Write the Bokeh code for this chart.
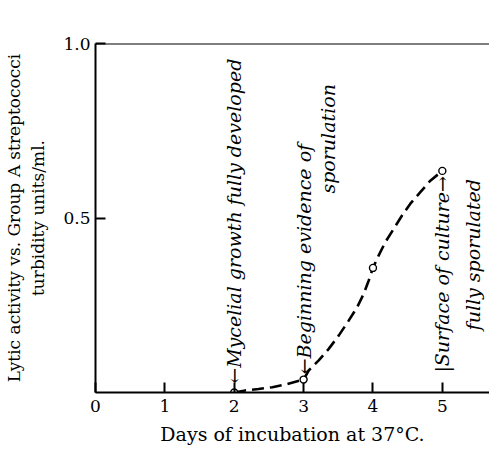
import math
from bokeh.plotting import figure
from bokeh.models import FixedTicker, Span, PrintfTickFormatter
from bokeh.core.properties import value
from bokeh.embed import file_html
from bokeh.resources import INLINE

# measured points
days = [2, 3, 4, 5]
activity = [0.0, 0.037, 0.357, 0.635]

# dashed curve
curve_days = [2.0, 2.16, 2.35, 2.55, 2.74, 3.0, 3.074, 3.218, 3.362, 3.506, 3.65, 3.771, 3.867,
              3.939, 4.0, 4.083, 4.179, 4.299, 4.419, 4.539, 4.683, 4.827, 5.0]
curve_vals = [0.0, 0.006, 0.010, 0.015, 0.023, 0.037, 0.063, 0.092, 0.125, 0.163, 0.206, 0.244, 0.283,
              0.321, 0.357, 0.393, 0.431, 0.469, 0.507, 0.541, 0.574, 0.607, 0.635]

x_ticks = [0, 1, 2, 3, 4, 5]
y_ticks = [0.5, 1.0]

notes = ["\u2190Mycelial growth fully developed",
         "\u2190Beginning evidence of",
         "sporulation",
         "|Surface of culture\u2192",
         "fully sporulated"]
note_x = [2.0, 3.0, 3.357, 5.0, 5.447]
note_y = [0.025, 0.052, 0.570, 0.057, 0.178]

p = figure(width=489, height=456, output_backend="svg", toolbar_location=None,
           x_range=(0, 5.68), y_range=(0, 1.0),
           min_border_left=95, min_border_top=43, min_border_bottom=64, min_border_right=0)
p.outline_line_color = None
p.grid.visible = False
p.background_fill_color = "white"

p.xaxis.ticker = FixedTicker(ticks=x_ticks)
p.yaxis.ticker = FixedTicker(ticks=y_ticks)
p.yaxis.formatter = PrintfTickFormatter(format="%.1f")
for ax in (p.xaxis[0], p.yaxis[0]):
    ax.major_tick_in = 10
    ax.major_tick_out = 0
    ax.minor_tick_line_color = None
    ax.axis_line_width = 2
    ax.major_tick_line_width = 2
    ax.axis_line_color = "black"
    ax.major_tick_line_color = "black"
    ax.major_label_text_font = "DejaVu Serif"
    ax.major_label_text_font_size = "17px"
    ax.major_label_text_color = "black"
    ax.axis_label_text_font = "DejaVu Serif"
    ax.axis_label_text_font_style = "normal"
    ax.axis_label_text_color = "black"

p.xaxis.major_label_standoff = 7
p.yaxis.major_label_standoff = 5
p.xaxis.axis_label = "Days of incubation at 37\u00b0C."
p.xaxis.axis_label_text_font_size = "19px"
p.xaxis.axis_label_standoff = 8
p.yaxis.axis_label = "Lytic activity vs. Group A streptococci\nturbidity units/ml."
p.yaxis.axis_label_text_font_size = "17px"
p.yaxis.axis_label_standoff = 12

p.add_layout(Span(location=1.0, dimension="width", line_color="black", line_width=2))

p.line(curve_days, curve_vals, line_color="black", line_width=2.6, line_dash="12 6")
p.scatter(days, activity, marker="circle", size=7, fill_color="white",
          line_color="black", line_width=1.4)

p.text(x=note_x, y=note_y, text=notes, angle=math.pi / 2,
       text_font=value("DejaVu Serif"), text_font_style="italic",
       text_font_size="19px", text_align="left", text_baseline="middle",
       text_color="black")

open("out.html", "w").write(file_html(p, INLINE))
